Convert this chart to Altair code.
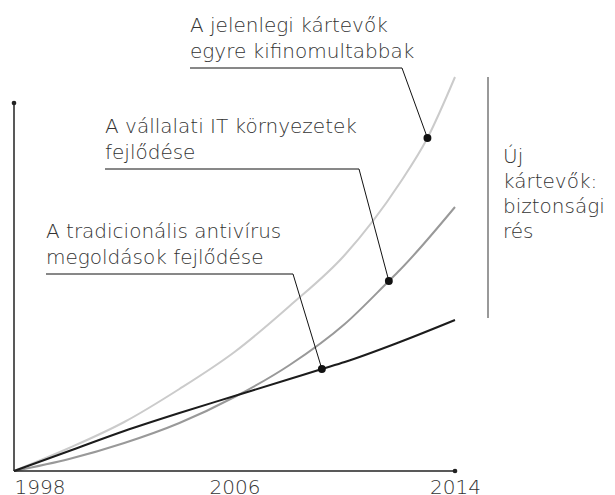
import altair as alt
import pandas as pd

# ---------------- data ----------------
YEARS_LIGHT = [1998, 2000, 2002, 2004, 2006, 2008, 2010, 2012, 2013, 2014]
LIGHT = [0, 23, 49, 82, 119, 165, 216, 288, 333, 394]

YEARS_MID = [1998, 2000, 2002, 2004, 2006, 2008, 2010, 2011.6, 2012, 2014]
MID = [0, 12, 28, 48, 74, 106, 147, 190, 201, 264]

YEARS_BLACK = [1998, 2000, 2002, 2004, 2006, 2008, 2009.17, 2010, 2012, 2014]
BLACK = [0, 20, 40, 58, 75, 92, 102, 109, 129, 151]

SERIES = ["kartevok", "it", "antivirus"]
SERIES_COLORS = ["#cbcbcb", "#999999", "#1c1c1c"]

DOT_YEARS = [2013, 2011.6, 2009.17]
DOT_VALUES = [333, 190, 102]

ANN_TEXT = [
    "A jelenlegi kártevők\negyre kifinomultabbak",
    "A vállalati IT környezetek\nfejlődése",
    "A tradicionális antivírus\nmegoldások fejlődése",
]
SIDE_TEXT = "Új\nkártevők:\nbiztonsági\nrés"
X_LABELS = [1998, 2006, 2014]
X_MIN, X_MAX = 1998, 2014
Y_AXIS_TOP = 368

# ---------------- layout helpers (pixel -> data units) ----------------
PLOT_W, PLOT_H = 441, 463
ORIGIN_X, ORIGIN_Y = 14, 471  # page pixels


def px_year(px):
    return X_MIN + (px - ORIGIN_X) / PLOT_W * (X_MAX - X_MIN)


def py_val(py):
    return ORIGIN_Y - py


ANN_X = [190, 105, 46]
ANN_LEADER_Y = [68, 169, 274]
ANN_ELBOW_X = [402, 359, 293]

FONT = "DejaVu Sans"
FW = 200
FS = 20
TEXT_COLOR = "#333333"

xs = alt.Scale(domain=[X_MIN, X_MAX], nice=False, zero=False)
ys = alt.Scale(domain=[0, PLOT_H], nice=False, zero=False)

rows = []
for name, yrs, vals in [(SERIES[0], YEARS_LIGHT, LIGHT), (SERIES[1], YEARS_MID, MID), (SERIES[2], YEARS_BLACK, BLACK)]:
    for i, (yr, v) in enumerate(zip(yrs, vals)):
        rows.append({"series": name, "year": yr, "value": v, "i": i})
curves = pd.DataFrame(rows)

lines = alt.Chart(curves).mark_line(interpolate="monotone").encode(
    x=alt.X("year:Q", scale=xs, axis=alt.Axis(
        values=X_LABELS, domain=False, ticks=False, grid=False, title=None,
        format="d", labelFont=FONT, labelFontSize=FS, labelFontWeight=FW,
        labelColor=TEXT_COLOR, labelPadding=6,
        labelAlign=alt.expr("datum.value == 1998 ? 'left' : 'center'"))),
    y=alt.Y("value:Q", scale=ys, axis=None),
    color=alt.Color("series:N", scale=alt.Scale(domain=SERIES, range=SERIES_COLORS), legend=None),
    strokeWidth=alt.StrokeWidth("series:N", scale=alt.Scale(domain=SERIES, range=[2, 2, 2.5]), legend=None),
    order="i:Q",
)

# axes lines
axes_df = pd.DataFrame({
    "x": [X_MIN, X_MIN], "x2": [X_MAX, X_MIN],
    "y": [0, 0], "y2": [0, Y_AXIS_TOP],
})
axes = alt.Chart(axes_df).mark_rule(color="#222222", strokeWidth=1.5).encode(
    x=alt.X("x:Q", scale=xs), x2="x2:Q", y=alt.Y("y:Q", scale=ys), y2="y2:Q")
axis_dots = alt.Chart(pd.DataFrame({"x": [X_MAX, X_MIN], "y": [0, Y_AXIS_TOP]})).mark_circle(
    color="#222222", opacity=1, size=22).encode(x=alt.X("x:Q", scale=xs), y=alt.Y("y:Q", scale=ys))

# leaders
lrows = []
for k in range(3):
    pts = [(px_year(ANN_X[k]), py_val(ANN_LEADER_Y[k])),
           (px_year(ANN_ELBOW_X[k]), py_val(ANN_LEADER_Y[k])),
           (DOT_YEARS[k], DOT_VALUES[k])]
    for j, (a, b) in enumerate(pts):
        lrows.append({"g": k, "o": j, "x": a, "y": b})
leaders = alt.Chart(pd.DataFrame(lrows)).mark_line(color="#111111", strokeWidth=1).encode(
    x=alt.X("x:Q", scale=xs), y=alt.Y("y:Q", scale=ys), detail="g:N", order="o:Q")

dots = alt.Chart(pd.DataFrame({"x": DOT_YEARS, "y": DOT_VALUES})).mark_circle(
    color="#111111", opacity=1, size=62).encode(x=alt.X("x:Q", scale=xs), y=alt.Y("y:Q", scale=ys))

ann_df = pd.DataFrame({
    "t": ANN_TEXT,
    "x": [px_year(v) for v in ANN_X],
    "y": [py_val(v - 36) for v in ANN_LEADER_Y],
})
ann = alt.Chart(ann_df).mark_text(
    align="left", baseline="alphabetic", font=FONT, fontSize=FS, fontWeight=FW,
    color=TEXT_COLOR, lineBreak="\n", lineHeight=26).encode(
    x=alt.X("x:Q", scale=xs), y=alt.Y("y:Q", scale=ys), text="t:N")

# right bracket line + text
bracket = alt.Chart(pd.DataFrame({"x": [px_year(488)], "y": [py_val(77)], "y2": [py_val(318)]})).mark_rule(
    color="#777777", strokeWidth=1.5).encode(
    x=alt.X("x:Q", scale=xs), y=alt.Y("y:Q", scale=ys), y2="y2:Q")
side = alt.Chart(pd.DataFrame({"t": [SIDE_TEXT], "x": [px_year(503)], "y": [py_val(163)]})).mark_text(
    align="left", baseline="alphabetic", font=FONT, fontSize=FS, fontWeight=FW,
    color=TEXT_COLOR, lineBreak="\n", lineHeight=25).encode(
    x=alt.X("x:Q", scale=xs), y=alt.Y("y:Q", scale=ys), text="t:N")

chart = alt.layer(lines, axes, axis_dots, leaders, dots, ann, bracket, side).properties(
    width=PLOT_W, height=PLOT_H,
    autosize=alt.AutoSizeParams(type="none"),
    padding={"left": 6, "top": 0, "right": 152, "bottom": 24},
    background="white",
).configure_view(stroke=None)

chart.save("out.html", embed_options={"renderer": "svg", "actions": False})
